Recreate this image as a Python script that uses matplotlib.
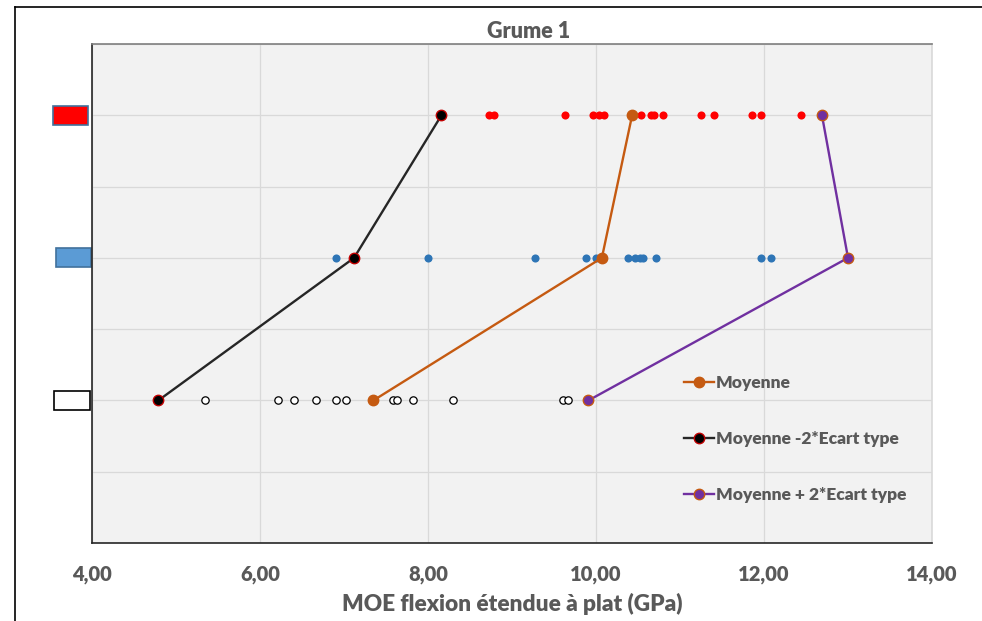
import numpy as np
import matplotlib.pyplot as plt
import matplotlib.transforms as mtransforms
from matplotlib.patches import Rectangle
from matplotlib.lines import Line2D

plt.rcParams['font.family'] = ['Lato', 'DejaVu Sans']

# row positions (y) of the three groups
rows = [6, 4, 2]

# individual MOE values per group (GPa)
red_vals = [8.16, 8.73, 8.79, 9.63, 9.97, 10.04, 10.10, 10.53, 10.65, 10.69,
            10.80, 11.25, 11.40, 11.86, 11.96, 12.44]
blue_vals = [6.90, 7.12, 8.00, 9.27, 9.88, 10.00, 10.38, 10.46, 10.52, 10.56,
             10.72, 11.96, 12.08]
white_vals = [5.34, 6.21, 6.40, 6.67, 6.91, 7.02, 7.58, 7.63, 7.82, 8.30,
              9.61, 9.67]

# summary lines (red row, blue row, white row)
moyenne = [10.43, 10.07, 7.35]
moins_2et = [8.16, 7.12, 4.79]
plus_2et = [12.69, 13.00, 9.91]

xticks = [4, 6, 8, 10, 12, 14]
xticklabels = ['4,00', '6,00', '8,00', '10,00', '12,00', '14,00']

txt = '#595959'
W = 800  # heavy weight, closer to Calibri bold

fig = plt.figure(figsize=(9.82, 6.21), dpi=100)
ax = fig.add_axes([92 / 982, 1 - 543 / 621, 840 / 982, 499 / 621])
ax.set_facecolor('#F2F2F2')

ax.scatter(red_vals, [rows[0]] * len(red_vals), s=34, color='#FF0000', zorder=3, linewidths=0)
ax.scatter(blue_vals, [rows[1]] * len(blue_vals), s=34, color='#2E75B6', zorder=3, linewidths=0)
ax.scatter(white_vals, [rows[2]] * len(white_vals), s=28, facecolor='white',
           edgecolor='black', linewidths=0.9, zorder=3)

ax.plot(moyenne, rows, color='#C55A11', lw=1.7, marker='o', ms=7.5,
        mfc='#C55A11', mec='#C55A11', label='Moyenne', zorder=4)
ax.plot(moins_2et, rows, color='#262626', lw=1.7, marker='o', ms=7.5,
        mfc='black', mec='#C00000', mew=1, label='Moyenne -2*Ecart type', zorder=4)
ax.plot(plus_2et, rows, color='#7030A0', lw=1.7, marker='o', ms=7.5,
        mfc='#7030A0', mec='#C55A11', mew=1, label='Moyenne + 2*Ecart type', zorder=4)

ax.set_xlim(4, 14)
ax.set_ylim(0, 7)
ax.set_xticks(xticks)
ax.set_xticklabels(xticklabels, fontsize=14.5, color=txt, fontweight=W)
ax.set_yticks(range(0, 8))
ax.set_yticklabels([])
ax.tick_params(axis='both', length=0)
ax.tick_params(axis='x', pad=16)
ax.grid(True, color='#D9D9D9', lw=0.9)
ax.set_axisbelow(True)

ax.spines['left'].set_color('#262626')
ax.spines['bottom'].set_color('#262626')
ax.spines['top'].set_color('#7F7F7F')
ax.spines['right'].set_color('#D9D9D9')
for s in ax.spines.values():
    s.set_linewidth(1.2)

ax.set_xlabel('MOE flexion étendue à plat (GPa)', fontsize=16.3, color=txt,
              fontweight=W, labelpad=6)

fig.text(529 / 982, 1 - 31 / 621, 'Grume 1', ha='center', va='center',
         fontsize=15.5, color=txt, fontweight=W)

# coloured group markers at left of the axis
trans = mtransforms.blended_transform_factory(ax.transAxes, ax.transData)
box_x = [-0.0468, -0.0432, -0.0449]
box_w = [0.0424, 0.0420, 0.0425]
box_fc = ['#FF0000', '#5B9BD5', 'white']
box_ec = ['#41719C', '#41719C', 'black']
for r, x0, w, fc, ec in zip(rows, box_x, box_w, box_fc, box_ec):
    ax.add_patch(Rectangle((x0, r - 0.135), w, 0.27, transform=trans,
                           facecolor=fc, edgecolor=ec, lw=1.2, clip_on=False))

ax.legend(loc='upper left', bbox_to_anchor=(684 / 982, 1 - 375 / 621),
          bbox_transform=fig.transFigure, frameon=False, borderpad=0,
          borderaxespad=0, handlelength=1.7, handletextpad=0.15,
          labelspacing=2.3, prop={'family': 'Lato', 'weight': W, 'size': 12.5},
          labelcolor=txt)

# chart border
fig.add_artist(Line2D([15 / 982, 1], [1 - 7 / 621, 1 - 7 / 621], color='black', lw=1.2))
fig.add_artist(Line2D([15 / 982, 15 / 982], [0, 1 - 7 / 621], color='black', lw=1.2))

fig.savefig('out.png', dpi=100)
